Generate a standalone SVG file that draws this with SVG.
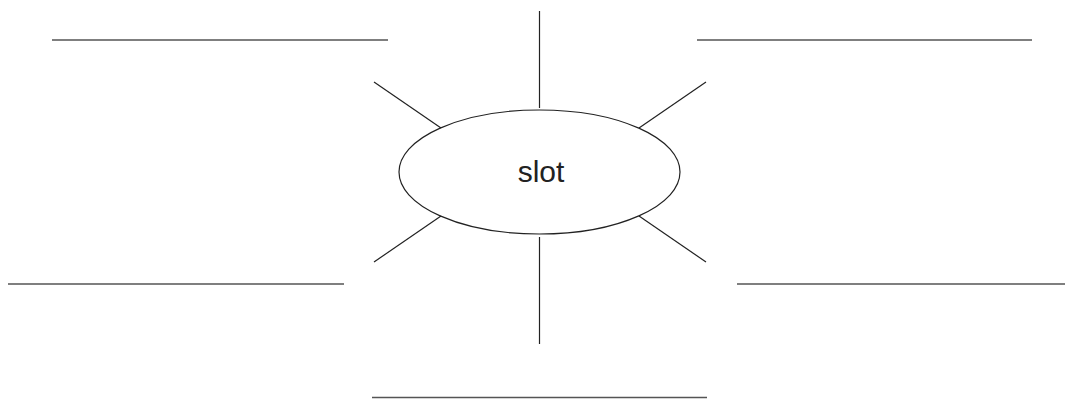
<svg xmlns="http://www.w3.org/2000/svg" width="1065" height="399" viewBox="0 0 1065 399">
<style>
.ln{stroke:#222;stroke-width:1.2;fill:none}
.blank{stroke:#555;stroke-width:1.5;fill:none}
.lbl{font-family:"Liberation Sans",Arial,sans-serif;font-size:30px;fill:#222}
</style>
<rect width="1065" height="399" fill="#fff"/>
<g id="center">
<ellipse cx="539.5" cy="172" rx="140.5" ry="62" fill="#fff" stroke="#222" stroke-width="1.2"/>
<text class="lbl" x="541" y="181.5" text-anchor="middle">slot</text>
</g>
<g id="blank-top-left"><line class="blank" x1="52" y1="40" x2="388" y2="40"/></g>
<g id="blank-top-right"><line class="blank" x1="697" y1="40" x2="1032" y2="40"/></g>
<g id="blank-mid-left"><line class="blank" x1="8" y1="284" x2="344" y2="284"/></g>
<g id="blank-mid-right"><line class="blank" x1="737" y1="284" x2="1065" y2="284"/></g>
<g id="blank-bottom"><line class="blank" x1="372" y1="397.5" x2="707" y2="397.5"/></g>
<g id="connectors">
<line class="ln" x1="539.5" y1="11" x2="539.5" y2="108"/>
<line class="ln" x1="539.5" y1="237" x2="539.5" y2="344"/>
<line class="ln" x1="374" y1="82" x2="441" y2="128"/>
<line class="ln" x1="706" y1="82" x2="639" y2="128"/>
<line class="ln" x1="441" y1="216" x2="374" y2="262"/>
<line class="ln" x1="639" y1="216" x2="706" y2="262"/>
</g>
</svg>
